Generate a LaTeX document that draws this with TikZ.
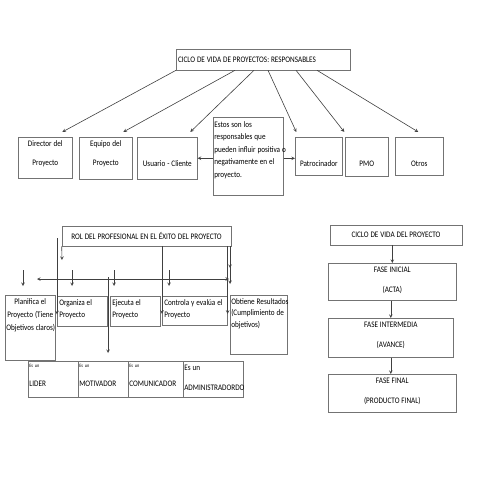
\documentclass[tikz,border=0pt]{standalone}
\usepackage{fontspec}
\setmainfont{Carlito}[FakeStretch=0.85]
\usetikzlibrary{arrows,calc}
\tikzstyle{arrow} = [->,>=stealth,draw=black!75]
\tikzstyle{box} = [draw=black!55,rectangle,inner sep=2bp,font=\fontsize{8.5}{10}\selectfont,
                   execute at begin node={\spaceskip=1.9pt\relax}]
\newcommand{\esun}{{\fontsize{5}{6}\selectfont Es un}}

\begin{document}
\begin{tikzpicture}[x=1bp,y=-1bp,line width=0.6bp]
  \useasboundingbox (0,0) rectangle (495,495);

  % Responsables
  \node [box, minimum width=174bp, minimum height=21bp, text width=170bp, align=left] (ciclo)
  at (263,59.5) {CICLO DE VIDA DE PROYECTOS: RESPONSABLES};
  \node [box, anchor=north west, minimum width=54bp, text width=50bp, align=center,
         text height=7bp, text depth=30bp] (director) at (18,137) {Director del\\[9bp]Proyecto};
  \node [box, anchor=north west, minimum width=53bp, text width=49bp, align=center,
         text height=7bp, text depth=31bp] (equipo) at (79,137) {Equipo del\\[9bp]Proyecto};
  \node [box, anchor=north west, minimum width=60bp, text width=56bp, align=center,
         text height=27bp, text depth=11bp] (usuario) at (137,137) {Usuario - Cliente};
  \node [box, anchor=north west, minimum width=70bp, text width=68bp, inner xsep=1bp, align=left,
         text height=8bp, text depth=66bp] (estos) at (213,117)
  {Estos son los\\[2.5bp]responsables que\\[2.5bp]\mbox{pueden influir positiva o}\\[2.5bp]negativamente en el\\[2.5bp]proyecto.};
  \node [box, anchor=north west, minimum width=47bp, text width=43bp, align=center,
         text height=27bp, text depth=7bp] (patrocinador) at (295,137) {Patrocinador};
  \node [box, anchor=north west, minimum width=43bp, text width=39bp, align=center,
         text height=27bp, text depth=8bp] (pmo) at (345,137) {PMO};
  \node [box, anchor=north west, minimum width=48bp, text width=44bp, align=center,
         text height=27bp, text depth=7bp] (otros) at (395,137) {Otros};

  \draw [arrow] ([xshift=-87bp]ciclo.south) -- ([xshift=17bp,yshift=5bp]director.north);
  \draw [arrow] ([xshift=-28bp]ciclo.south) -- ([xshift=17.5bp,yshift=5bp]equipo.north);
  \draw [arrow] ([xshift=-9bp]ciclo.south) -- ([xshift=23bp,yshift=5bp]usuario.north);
  \draw [arrow] ([xshift=5bp]ciclo.south) -- ([xshift=-22.5bp,yshift=5bp]patrocinador.north);
  \draw [arrow] ([xshift=33bp]ciclo.south) -- ([xshift=-22.5bp,yshift=5bp]pmo.north);
  \draw [arrow] ([xshift=54bp]ciclo.south) -- ([xshift=-1bp,yshift=5bp]otros.north);
  \draw [arrow] (estos.west |- usuario.east) -- (usuario.east);
  \draw [arrow] (estos.east |- usuario.east) -- (patrocinador.west |- usuario.east);

  % Rol del profesional
  \node [box, minimum width=169bp, minimum height=20bp, align=center] (rol)
  at (146.5,236) {ROL DEL PROFESIONAL EN EL ÉXITO DEL PROYECTO};
  \node [box, anchor=north west, minimum width=50bp, text width=48bp, inner xsep=1bp, align=center,
         text height=7bp, text depth=54bp] (planifica) at (5,295)
  {Planifica el\\[3bp]\mbox{Proyecto (Tiene}\\[3bp]\mbox{Objetivos claros)}};
  \node [box, anchor=north west, minimum width=50bp, text width=46bp, align=left,
         text height=7bp, text depth=19bp] (organiza) at (57,296) {Organiza el\\[2bp]Proyecto};
  \node [box, anchor=north west, minimum width=50bp, text width=46bp, align=left,
         text height=7bp, text depth=19bp] (ejecuta) at (110,296) {Ejecuta el\\[2bp]Proyecto};
  \node [box, anchor=north west, minimum width=65bp, text width=61bp, align=left,
         text height=7bp, text depth=18bp] (controla) at (162,296) {\mbox{Controla y evalúa el}\\[2bp]Proyecto};
  \node [box, anchor=north west, minimum width=57bp, text width=55bp, inner xsep=1bp, align=left,
         text height=7bp, text depth=48bp] (obtiene) at (230,295)
  {\mbox{Obtiene Resultados}\\[1.5bp]\mbox{(Cumplimiento de}\\[1.5bp]objetivos)};

  \node [box, anchor=north west, minimum width=50bp, text width=48bp, inner xsep=1bp, align=left,
         text height=4bp, text depth=28bp] (lider) at (28,361) {\esun\\[9bp]LIDER};
  \node [box, anchor=north west, minimum width=50bp, text width=48bp, inner xsep=1bp, align=left,
         text height=4bp, text depth=28bp] (motivador) at (78,361) {\esun\\[9bp]MOTIVADOR};
  \node [box, anchor=north west, minimum width=55bp, text width=53bp, inner xsep=1bp, align=left,
         text height=4bp, text depth=28bp] (comunicador) at (128,361) {\esun\\[9bp]COMUNICADOR};
  \node [box, anchor=north west, minimum width=60bp, text width=58bp, inner xsep=1bp, align=left,
         text height=7bp, text depth=25bp] (administrador) at (183,361) {Es un\\[10bp]\mbox{ADMINISTRADORDO}};

  \coordinate (izq) at (57,238);
  \coordinate (rolpie) at (62,260);
  \coordinate (hizq) at (37,279);
  \coordinate (hder) at (229,279);
  \coordinate (bajada) at (108,277);
  \coordinate (bajadapie) at (108,353);
  \coordinate (obt) at (230,268);

  \draw [arrow] (izq) -- ([yshift=-3bp]organiza.west);
  \draw [arrow] (rol.south west) -- (rolpie);
  \foreach \x [count=\i] in {23,72,114,169}
  {
    \coordinate (d\i) at (\x,270);
    \draw [arrow] (d\i) -- ++(0,16);
  }
  \draw [arrow,<->] (hizq) -- (hder);
  \draw [arrow] (bajada) -- (bajadapie);
  \draw [arrow] (rol.south -| controla.west) -- ([yshift=-3bp]controla.west);
  \draw [arrow] (rol.south -| controla.east) -- ([yshift=-3bp]controla.east);
  \draw [arrow] (rol.south -| obtiene.west) -- (obt);
  \draw [arrow] (rol.south -| obtiene.west) -- ([yshift=11bp]obtiene.north west);

  % Ciclo de vida
  \node [box, minimum width=132bp, minimum height=20bp, align=center] (cvp)
  at (396,235) {CICLO DE VIDA DEL PROYECTO};
  \node [box, anchor=north west, minimum width=128bp, text width=124bp, align=center,
         text height=7bp, text depth=26bp] (inicial) at (328,263) {FASE INICIAL\\[10bp](ACTA)};
  \node [box, anchor=north west, minimum width=125bp, text width=121bp, align=center,
         text height=7bp, text depth=28bp] (intermedia) at (328,318) {FASE INTERMEDIA\\[10bp](AVANCE)};
  \node [box, anchor=north west, minimum width=128bp, text width=124bp, align=center,
         text height=7bp, text depth=27bp] (final) at (328,374) {FASE FINAL\\[10bp](PRODUCTO FINAL)};

  \draw [arrow] (cvp.south -| inicial.north) -- (inicial.north);
  \draw [arrow] (inicial.south -| intermedia.north) -- (intermedia.north);
  \draw [arrow] (intermedia.south) -- (intermedia.south |- final.north);
\end{tikzpicture}
\end{document}
